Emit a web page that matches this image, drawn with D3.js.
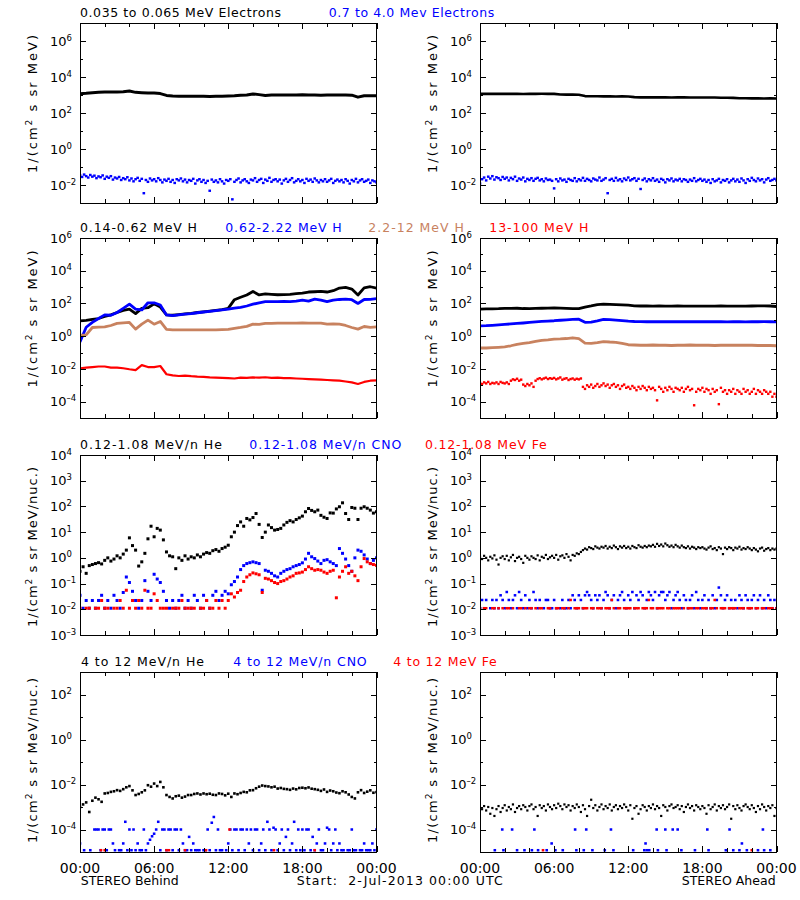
<!DOCTYPE html>
<html><head><meta charset="utf-8">
<script src="https://cdn.jsdelivr.net/npm/d3@7"></script>
<style>body{margin:0;background:#fff}svg{display:block}text{font-family:"DejaVu Sans",sans-serif}</style>
</head><body><svg id="c" width="800" height="900"></svg>
<script>
// ---------------- DATA (flux values, hours since 2-Jul-2013 00:00 UTC) ----------------
const xTickHours = [0, 6, 12, 18, 24];
const xTickLabels = ["00:00", "06:00", "12:00", "18:00", "00:00"];
const xMinorHours = [2, 4, 8, 10, 14, 16, 20, 22];

// Row 1 electrons (black: 30-min samples; blue: 10-min samples)
const behindElecLo = [1180,1250,1350,1400,1450,1470,1450,1500,1650,1400,1350,1300,1300,1200,950,880,860,850,860,840,850,830,840,850,870,900,960,1000,1150,1050,950,1000,1010,990,1000,1000,1020,990,1000,980,1000,990,1010,1000,980,760,900,920,900];
const behindElecHi = [0.035,0.028,0.038,0.031,0.026,0.036,0.029,0.033,0.024,0.030,0.027,0.034,
 0.022,0.029,0.025,0.031,0.020,0.026,0.023,0.028,0.019,0.024,0.021,0.027,
 0.018,0.023,0.016,0.021,0.025,0.017,0.022,0.0035,0.019,0.015,0.023,0.018,
 0.021,0.016,0.024,0.019,0.014,0.020,0.017,0.022,0.015,0.019,0.013,0.021,
 0.018,0.023,0.016,0.020,0.014,0.019,0.017,0.022,0.012,0.018,0.021,0.015,
 0.019,0.013,0.017,0.0048,0.020,0.015,0.018,0.014,0.021,0.016,0.012,0.019,
 0.017,0.021,0.0016,0.015,0.019,0.023,0.014,0.018,0.021,0.016,0.013,0.020,
 0.018,0.024,0.015,0.019,0.022,0.013,0.020,0.017,0.025,0.015,0.019,0.021,
 0.016,0.020,0.012,0.018,0.022,0.015,0.019,0.024,0.014,0.017,0.021,0.016,
 0.019,0.013,0.022,0.017,0.020,0.015,0.023,0.018,0.014,0.019,0.016,0.021,
 0.015,0.018,0.022,0.013,0.017,0.020,0.016,0.019,0.014,0.021,0.017,0.012,
 0.019,0.016,0.022,0.014,0.018,0.021,0.015,0.017,0.020,0.013,0.018,0.016,0.014];
const aheadElecLo = [1150,1150,1160,1150,1150,1160,1150,1140,1150,1160,1170,1160,1150,1060,1050,1050,1040,870,850,850,840,850,830,840,830,760,740,740,750,740,740,730,740,740,730,730,720,730,720,710,700,690,660,660,650,650,640,650,640];
const aheadElecHi = [0.012,0.021,0.026,0.018,0.029,0.023,0.031,0.020,0.027,0.024,0.019,0.028,
 0.022,0.026,0.018,0.025,0.021,0.029,0.017,0.023,0.020,0.026,0.016,0.022,
 0.019,0.024,0.017,0.022,0.025,0.018,0.021,0.016,0.023,0.019,0.020,0.017,
 0.0065,0.021,0.016,0.023,0.018,0.020,0.015,0.022,0.019,0.017,0.024,0.016,
 0.021,0.018,0.025,0.017,0.022,0.019,0.016,0.023,0.020,0.018,0.026,0.017,
 0.020,0.024,0.0035,0.019,0.022,0.017,0.025,0.018,0.021,0.016,0.023,0.019,
 0.026,0.018,0.021,0.024,0.017,0.022,0.006,0.019,0.023,0.016,0.021,0.018,
 0.024,0.017,0.020,0.015,0.022,0.019,0.014,0.021,0.018,0.023,0.016,0.020,
 0.018,0.022,0.016,0.021,0.019,0.015,0.020,0.017,0.024,0.016,0.019,0.022,
 0.017,0.020,0.015,0.019,0.013,0.021,0.016,0.018,0.022,0.014,0.019,0.017,
 0.021,0.014,0.018,0.022,0.016,0.020,0.015,0.023,0.018,0.013,0.021,0.017,
 0.025,0.019,0.016,0.023,0.018,0.021,0.014,0.020,0.024,0.017,0.019,0.022,0.018];

// Row 2 protons (30-min samples; ahead 13-100 MeV at 10-min)
const behindH1 = [8.7,9.2,10.5,12,16,20,28,38,45,24,50,55,95,60,20,19,21,23,25,28,31,34,38,42,50,170,240,330,540,330,380,360,340,350,360,400,430,500,520,540,500,600,870,950,760,330,900,1050,870];
const behindH2 = [0.45,3.5,7,12,20,19,28,50,90,45,40,110,110,80,20,18,20,22,24,27,30,33,36,40,45,52,57,70,90,110,130,130,130,135,130,140,160,140,185,160,130,160,175,185,170,100,175,180,195];
const behindH3 = [1.15,1.2,3.4,3.6,3.7,4.5,6,6.5,6.9,2.7,5.4,9.5,5.4,8,2.6,2.4,2.4,2.4,2.4,2.4,2.4,2.4,2.45,2.5,2.6,3.0,3.4,4.0,5.4,5.2,6,6,6.3,6.3,6.3,6.3,6.4,6.3,6.3,6.3,5.4,5.6,5.4,4.5,3.4,2.7,3.9,3.5,3.7];
const behindH4 = [0.011,0.012,0.013,0.014,0.014,0.012,0.012,0.011,0.0095,0.0085,0.017,0.013,0.013,0.015,0.0047,0.004,0.0037,0.0039,0.0036,0.0034,0.0033,0.003,0.0029,0.0028,0.0027,0.0026,0.0029,0.0028,0.003,0.0029,0.0031,0.0028,0.0029,0.0027,0.0027,0.0026,0.0025,0.0024,0.0023,0.0022,0.0021,0.002,0.0019,0.0017,0.0015,0.0012,0.0016,0.0019,0.002];
const aheadH1 = [45,46,47,48,50,50,51,49,48,50,51,52,53,52,50,48,48,60,70,85,92,88,85,83,78,72,70,70,69,70,69,69,70,69,68,69,69,68,69,70,69,68,68,69,70,71,72,70,65];
const aheadH2 = [4.3,4.4,4.6,4.9,5.2,5.6,6.0,6.4,6.9,7.5,8,8.4,8.8,9.4,10,10.5,11,7.0,7.2,8.5,10.5,10.2,9.6,9.0,8.3,7.9,7.7,7.6,7.7,7.6,7.6,7.7,7.6,7.6,7.7,7.6,7.6,7.6,7.7,7.6,7.5,7.6,7.6,7.5,7.6,7.6,7.7,7.6,7.5];
const aheadH3 = [0.19,0.19,0.2,0.21,0.22,0.26,0.32,0.36,0.41,0.48,0.56,0.6,0.66,0.68,0.72,0.8,0.7,0.38,0.36,0.4,0.47,0.44,0.42,0.36,0.3,0.29,0.28,0.28,0.29,0.28,0.28,0.27,0.28,0.28,0.29,0.28,0.28,0.28,0.27,0.28,0.28,0.28,0.28,0.28,0.28,0.27,0.27,0.27,0.26];
const aheadH4 = [0.0014,0.0012,0.0015,0.0013,0.0016,0.0012,0.0014,0.0013,0.0015,0.0012,0.0016,0.0014,
 0.0013,0.0015,0.0012,0.0019,0.0023,0.0021,0.0025,0.0019,0.0022,0.0011,0.0009,0.0012,
 0.0010,0.0013,0.0008,0.0019,0.0024,0.0027,0.0023,0.0026,0.0029,0.0024,0.0027,0.0025,
 0.0028,0.0023,0.0026,0.0030,0.0022,0.0025,0.0027,0.0021,0.0024,0.0026,0.0022,0.0025,
 0.0023,0.0026,0.0008,0.0006,0.0010,0.0008,0.0011,0.0007,0.0009,0.0012,0.0008,0.0010,
 0.0013,0.0009,0.0011,0.0007,0.0010,0.0012,0.0008,0.0010,0.0006,0.0009,0.0011,0.0007,
 0.0008,0.0006,0.0009,0.0007,0.0005,0.0008,0.0006,0.0009,0.0007,0.0005,0.0008,0.0006,
 0.0007,0.0005,0.00012,0.0008,0.0006,0.0004,0.0007,0.0005,0.0008,0.0006,0.0004,0.0007,
 0.0006,0.0005,0.0007,0.0004,0.0006,0.0008,0.0005,0.0006,0.00006,0.0004,0.0006,0.0005,
 0.0007,0.0004,0.0006,0.0005,0.0003,0.0006,0.0004,0.0005,0.00007,0.0007,0.0004,0.0005,
 0.0003,0.0005,0.0004,0.0006,0.0003,0.0005,0.0004,0.0003,0.0006,0.0004,0.0005,0.0003,
 0.0004,0.0006,0.0003,0.0005,0.0004,0.0003,0.0005,0.0004,0.0003,0.0004,0.0002,0.0003,0.0002];

// Row 3 low-energy ions (15-min samples; ahead at 10-min)
const behindHeLo = [0.3,0.45,0.25,0.5,0.55,0.6,0.65,0.58,0.8,1.0,0.75,0.9,1.2,1.0,1.4,2.0,6.0,3.0,2.0,0.48,0.7,1.5,5.5,17,6.6,14,12,5,1.7,1.2,1.1,0.38,1.0,0.8,1.2,0.9,1.1,1.0,1.3,1.1,1.4,1.6,1.5,1.9,2.1,1.8,2.3,2.6,3.1,6.6,10,18,25,17,34,30,37,53,20,6.2,10,19,15,12,12.7,14,19,24,28,25,31,36,42,62,83,70,62,72,45,38,34,56,55,80,97,138,53,31,91,85,31,85,97,85,72,55,62];
const behindCNOLo = [0.035,0.011,0.022,0.011,0.022,0.011,0.022,0.035,0.011,0.022,0.011,0.035,0.022,0.011,0.045,0.18,0.11,0.05,0.022,0.011,0.022,0.13,0.05,0.022,0.23,0.15,0.11,0.05,0.022,0.011,0.022,0.011,0.022,0.035,0.011,0.022,0.011,0.035,0.022,0.011,0.035,0.022,0.011,0.035,0.05,0.022,0.035,0.05,0.04,0.09,0.12,0.18,0.35,0.5,0.6,0.65,0.7,0.65,0.6,0.055,0.33,0.3,0.25,0.2,0.18,0.25,0.3,0.35,0.38,0.45,0.5,0.55,0.64,0.9,1.5,1.1,0.94,0.75,0.6,0.8,0.85,0.7,0.6,0.5,2.3,1.5,0.9,0.5,0.3,1.0,2.0,1.8,1.3,0.9,0.6,0.8,1.0];
const behindFeLo = [0.011,null,0.011,0.011,null,0.011,0.011,0.022,0.011,0.011,null,0.011,0.011,0.022,0.011,0.055,0.011,0.022,0.011,0.022,0.011,0.055,0.011,0.011,0.04,0.022,0.011,0.011,0.011,null,0.011,0.011,0.011,0.022,0.011,0.011,0.011,0.011,null,0.011,0.011,0.022,0.011,0.011,0.022,0.011,0.022,0.011,0.022,0.04,0.03,0.045,0.055,0.12,0.18,0.22,0.26,0.24,0.22,0.045,0.16,0.15,0.13,0.11,0.1,0.12,0.13,0.15,0.18,0.2,0.25,0.26,0.28,0.35,0.45,0.38,0.33,0.35,0.33,0.28,0.25,0.3,0.33,0.028,0.18,0.3,0.45,0.25,0.3,0.2,0.13,0.45,0.94,0.7,0.6,0.55,0.51];
const aheadHeLo = [1.1,0.9,1.2,1.0,0.8,1.1,0.95,1.25,0.85,0.55,1.0,1.15,
 0.9,1.2,0.8,1.05,1.3,0.75,1.0,1.1,0.9,0.64,1.2,1.0,
 0.85,1.15,1.0,0.9,1.25,0.8,1.1,1.0,1.3,0.9,1.05,1.2,
 1.0,1.3,0.85,1.15,1.25,1.0,1.4,1.1,0.8,1.3,1.2,1.5,
 1.4,1.7,2.0,2.3,2.1,2.6,2.4,2.2,2.8,2.5,2.3,2.7,
 2.5,2.9,2.3,2.7,2.4,3.0,2.6,2.2,2.8,2.5,2.9,2.4,
 2.7,2.3,2.9,2.6,2.4,3.1,2.7,2.5,2.9,2.6,3.0,2.8,
 3.2,2.7,3.5,2.9,3.3,2.8,3.6,3.1,2.7,3.0,2.6,3.2,
 2.8,2.5,3.0,2.6,2.4,2.8,2.3,2.7,2.5,2.2,2.6,2.4,
 2.6,2.3,2.1,2.5,2.8,2.2,2.4,2.0,2.6,2.3,1.4,2.5,
 2.2,2.6,2.4,2.0,2.5,2.3,2.7,2.1,2.4,2.2,2.6,2.3,
 2.0,2.4,2.1,1.8,2.3,2.5,1.9,2.2,2.4,2.0,2.3,2.1,2.3];
const aheadCNOLo = [0.011,0.023,0.011,0.023,null,0.011,0.023,0.011,0.023,0.011,0.035,0.023,
 0.011,0.047,0.023,0.011,0.023,0.035,0.011,0.047,0.023,0.011,0.035,0.011,
 0.023,0.011,0.047,0.023,0.011,0.023,null,0.011,0.023,0.023,0.011,0.011,
 0.023,0.011,null,0.011,0.023,0.011,0.011,0.023,0.011,0.035,0.023,0.011,
 0.035,0.023,0.011,0.035,0.047,0.035,0.023,0.011,0.035,0.023,0.035,0.011,
 0.023,0.047,0.035,0.011,0.023,0.035,0.011,0.023,0.035,0.047,0.023,0.011,
 0.035,0.023,0.047,0.011,0.035,0.023,0.047,0.035,0.011,0.023,0.047,0.035,
 0.023,0.047,0.011,0.035,0.047,0.047,0.023,0.035,0.047,0.011,0.023,0.035,
 0.047,0.023,0.011,0.035,0.023,0.011,0.023,0.035,0.011,0.047,0.023,0.011,
 0.023,0.035,0.011,0.023,0.011,0.035,0.011,0.023,0.07,0.035,0.011,0.023,
 0.035,0.011,0.023,0.011,0.023,0.011,0.035,0.023,0.011,0.035,0.023,0.011,
 0.023,0.035,0.011,0.023,0.035,0.011,0.023,0.011,0.035,0.023,0.011,0.023,0.011];
const aheadFeLo = [0.011,null,0.011,0.011,null,null,0.011,0.011,null,0.011,null,0.011,
 null,0.011,0.011,null,0.011,null,null,0.011,0.011,null,0.011,null,
 0.011,0.011,null,0.011,null,0.011,0.011,null,null,0.011,0.011,null,
 null,0.011,0.011,null,0.011,0.011,null,0.011,0.023,null,0.011,0.011,
 0.011,null,0.011,0.011,0.011,null,0.011,0.011,null,0.011,0.011,0.011,
 null,0.011,0.011,0.011,0.023,0.011,null,0.011,0.011,null,0.011,0.011,
 0.011,0.011,null,0.011,0.011,0.011,null,0.011,0.011,0.011,0.023,0.011,
 0.011,null,0.011,0.011,0.011,0.011,null,0.011,0.011,null,0.011,0.011,
 0.011,0.011,null,0.011,null,0.011,0.011,0.011,null,0.011,0.011,null,
 0.011,0.011,0.011,null,0.011,0.011,0.023,0.011,null,0.011,0.011,0.011,
 null,0.011,0.011,0.011,0.011,null,0.011,0.011,0.011,null,0.011,0.011,
 0.011,null,0.011,0.011,null,0.011,0.011,null,0.011,0.011,0.011,null,0.011];

// Row 4 high-energy ions (15-min / 10-min samples, or sparse [hour, value] pairs)
const behindHeHi = [0.0010,0.0013,0.0016,0.0006,0.0019,0.0026,0.0022,0.0017,0.0040,0.0042,0.0047,0.0050,0.0056,0.0052,0.0062,0.0075,0.0085,0.0055,0.0034,0.0038,0.0045,0.0055,0.0093,0.0080,0.011,0.0085,0.013,0.0075,0.0034,0.0028,0.0024,0.0030,0.0032,0.0026,0.0029,0.0034,0.0034,0.0038,0.0040,0.0036,0.0040,0.0037,0.0039,0.0035,0.0034,0.0040,0.0038,0.0033,0.0039,0.0028,0.0040,0.0037,0.0042,0.0047,0.0045,0.0055,0.0056,0.0068,0.0080,0.0090,0.0085,0.0082,0.0075,0.0080,0.0066,0.0070,0.0064,0.0062,0.0058,0.0066,0.0061,0.0070,0.0072,0.0068,0.0074,0.0065,0.0062,0.0058,0.0052,0.0060,0.0047,0.0054,0.0050,0.0044,0.0041,0.0050,0.0045,0.0036,0.0028,0.0024,0.0045,0.0056,0.0042,0.0048,0.0055,0.0043,0.0046];
const behindCNOHi = [2.4e-5,null,1.2e-5,null,null,1.2e-5,null,1e-4,1e-4,1e-4,1.2e-5,1e-4,
 1e-4,1.2e-5,1e-4,1e-4,2.4e-5,1.2e-5,null,1.2e-5,1.2e-5,2.4e-5,2.2e-4,1.2e-5,
 1e-4,1.2e-5,1e-4,1.2e-5,2.4e-5,1.2e-5,1.2e-5,1e-4,1.2e-5,2.4e-5,3.5e-5,5e-5,
 6.5e-5,1e-4,2.2e-4,1.2e-5,1e-4,1e-4,1.2e-5,1e-4,1e-4,1.2e-5,1e-4,1e-4,
 1.2e-5,1e-4,2.4e-5,1.2e-5,1.2e-5,4.7e-5,1.2e-5,2.4e-5,1.2e-5,1.2e-5,1.2e-5,null,
 1.2e-5,1.2e-5,1e-4,1.2e-5,2e-4,3.6e-4,1.2e-5,1e-4,1.2e-5,1.2e-5,null,1.2e-5,
 2.4e-5,1e-4,1.2e-5,1e-4,1e-4,1.2e-5,1e-4,1e-4,1.2e-5,1e-4,2.4e-5,1e-4,
 1.2e-5,1e-4,1e-4,1.2e-5,2.4e-5,1e-4,1.2e-5,2.2e-4,1e-4,1.2e-5,1.2e-4,1e-4,
 1.2e-5,2.4e-5,1e-4,1.2e-5,4.7e-5,1e-4,1.2e-5,2.4e-5,2.2e-4,1.2e-5,1e-4,1.2e-5,
 1e-4,1.2e-5,1e-4,1e-4,1.2e-5,4.7e-5,1.2e-5,2.4e-5,1e-4,1.2e-5,1.2e-5,2.4e-5,
 1.2e-4,1e-4,1.2e-5,2.4e-5,1e-4,1.2e-5,2.4e-5,1.2e-5,1.2e-5,null,1.2e-5,1.2e-5,
 1e-4,1.2e-5,1.2e-5,null,1.2e-5,1.2e-5,2.4e-5,1.2e-5,1.2e-5,1.2e-5,2.4e-5,1.2e-5,1e-4];
const behindFeHi = [[1.7,1.2e-5],[2.0,1.2e-5],[7.0,1.2e-5],[7.2,1.2e-5],[8.5,1.2e-5],[10.2,1.2e-5],[12.1,1e-4],[15.7,1.2e-5],[19.0,1.2e-5]];
const aheadHeHi = [0.0009,0.0008,0.0011,0.0007,0.0010,0.0005,0.0009,0.0004,0.0008,0.0011,0.0006,0.0009,
 0.0012,0.0007,0.0010,0.0008,0.0013,0.0006,0.0009,0.0011,0.0008,0.0012,0.0010,0.0007,
 0.0011,0.0013,0.0008,0.0010,0.0004,0.0012,0.0009,0.0011,0.0007,0.0013,0.0010,0.0008,
 0.0012,0.0009,0.0014,0.0011,0.0008,0.0013,0.0010,0.0012,0.0007,0.0011,0.0009,0.0013,
 0.0010,0.0006,0.0012,0.0008,0.0004,0.0011,0.0021,0.0009,0.0012,0.0007,0.0010,0.0013,
 0.0008,0.0011,0.0009,0.0013,0.0007,0.0010,0.0012,0.0008,0.0011,0.0009,0.0013,0.0010,
 0.0007,0.0012,0.0003,0.0009,0.0011,0.0005,0.0008,0.0012,0.0010,0.0007,0.0011,0.0009,
 0.0013,0.0008,0.0011,0.0009,0.0004,0.0012,0.0010,0.0007,0.0011,0.0013,0.0009,0.0010,
 0.0012,0.0008,0.0011,0.0006,0.0010,0.0013,0.0009,0.0011,0.0007,0.0012,0.0010,0.0008,
 0.0011,0.0009,0.0005,0.0012,0.0008,0.0010,0.0013,0.0007,0.0011,0.0009,0.0012,0.0008,
 0.0010,0.0013,0.0003,0.0011,0.0008,0.0012,0.0009,0.0007,0.0011,0.0013,0.0010,0.0008,
 0.0012,0.0009,0.0006,0.0011,0.0008,0.0013,0.0010,0.0007,0.0011,0.0009,0.0012,0.0004,0.0009];
const aheadCNOHi = [[1.2,1.2e-5],[1.8,1e-4],[1.9,1.2e-5],[2.6,1e-4],[3.0,1.2e-5],[3.6,1.2e-5],[4.2,1.2e-5],[4.4,1e-4],[4.7,1.2e-5],[5.4,1.2e-5],[5.8,2.4e-5],[6.1,1.2e-5],[6.7,1.2e-5],[7.7,1e-4],[7.8,1.2e-5],[8.4,1.2e-5],[8.6,1e-4],[9.1,1.2e-5],[10.1,1.2e-5],[10.6,1e-4],[10.8,1.2e-5],[12.4,1.2e-5],[13.3,1.2e-5],[13.4,2.4e-5],[13.5,1.2e-5],[13.7,1.2e-5],[14.3,1e-4],[14.4,1.2e-5],[15.0,1e-4],[15.1,1.2e-5],[15.6,1e-4],[16.0,1e-4],[16.3,1.2e-5],[17.4,1.2e-5],[18.4,1e-4],[18.5,1.2e-5],[19.9,1.2e-5],[20.2,1e-4],[20.5,1.2e-5],[21.0,1.2e-5],[21.2,2.4e-5],[21.6,1.2e-5],[22.5,1.2e-5],[22.9,1e-4],[23.0,1.2e-5],[23.5,1.2e-5]];
const aheadFeHi = [[5.1,1.2e-5],[22.0,1.2e-5]];

// ---------------- LAYOUT / STYLE ----------------
const BLACK = "#000000", BLUE = "#0000ff", BROWN = "#c8825f", RED = "#ff0000";
const colX = [80, 480], plotW = 296.5;
const rowTop = [23, 238, 455, 672], plotH = 180;
const rowsCfg = [
  {domain:[1e-3,1e7], major:[-2,0,2,4,6], minor:[-1,1,3,5], unit:"MeV)", yLen:138, yShift:-9},
  {domain:[1e-5,1e6], major:[-4,-2,0,2,4,6], minor:[-3,-1,1,3,5], unit:"MeV)", yLen:137, yShift:-9},
  {domain:[1e-3,1e4], major:[-3,-2,-1,0,1,2,3,4], minor:[], unit:"MeV/nuc.)", yLen:160, yShift:2},
  {domain:[1e-5,1e3], major:[-4,-2,0,2], minor:[-3,-1,1], unit:"MeV/nuc.)", yLen:165, yShift:-1.5}
];
const titles = [
  [{t:"0.035 to 0.065 MeV Electrons", x:80, w:201, c:BLACK}, {t:"0.7 to 4.0 Mev Electrons", x:328.7, w:165.6, c:BLUE}],
  [{t:"0.14-0.62 MeV H", x:80, w:117, c:BLACK}, {t:"0.62-2.22 MeV H", x:225.3, w:116.4, c:BLUE}, {t:"2.2-12 MeV H", x:368.3, w:95.7, c:BROWN}, {t:"13-100 MeV H", x:489.3, w:99, c:RED}],
  [{t:"0.12-1.08 MeV/n He", x:80, w:142, c:BLACK}, {t:"0.12-1.08 MeV/n CNO", x:249.3, w:152, c:BLUE}, {t:"0.12-1.08 MeV Fe", x:425, w:121.7, c:RED}],
  [{t:"4 to 12 MeV/n He", x:81, w:123, c:BLACK}, {t:"4 to 12 MeV/n CNO", x:233.3, w:133.4, c:BLUE}, {t:"4 to 12 MeV Fe", x:393.3, w:103.4, c:RED}]
];
const L = (data, step, color, w) => ({data, step, color, mode:"line", w});
const D = (data, step, color, w, h) => ({data, step, color, mode:"dot", w, h});
const P = (pairs, color, w, h) => ({pairs, color, mode:"dot", w, h});
const panels = [
  {row:0, col:0, series:[L(behindElecLo,0.5,BLACK,3), D(behindElecHi,1/6,BLUE,2.6,2.4)]},
  {row:0, col:1, series:[L(aheadElecLo,0.5,BLACK,2.6), D(aheadElecHi,1/6,BLUE,2.6,2.4)]},
  {row:1, col:0, series:[L(behindH1,0.5,BLACK,2.8), L(behindH2,0.5,BLUE,2.8), L(behindH3,0.5,BROWN,2.8), L(behindH4,0.5,RED,2.2)]},
  {row:1, col:1, series:[L(aheadH1,0.5,BLACK,2.8), L(aheadH2,0.5,BLUE,2.8), L(aheadH3,0.5,BROWN,2.8), D(aheadH4,1/6,RED,2.4,2.4)]},
  {row:2, col:0, series:[D(behindHeLo,0.25,BLACK,3,3), D(behindCNOLo,0.25,BLUE,3,3), D(behindFeLo,0.25,RED,3,3)]},
  {row:2, col:1, series:[D(aheadHeLo,1/6,BLACK,2.2,2.2), D(aheadCNOLo,1/6,BLUE,2.6,2.5), D(aheadFeLo,1/6,RED,2.6,2.5)]},
  {row:3, col:0, series:[D(behindHeHi,0.25,BLACK,2.6,2.6), D(behindCNOHi,1/6,BLUE,2.6,2.5), P(behindFeHi,RED,2.6,2.5)]},
  {row:3, col:1, series:[D(aheadHeHi,1/6,BLACK,2.2,2.2), P(aheadCNOHi,BLUE,2.6,2.5), P(aheadFeHi,RED,2.6,2.5)]}
];

// ---------------- DRAW ----------------
const svg = d3.select("#c");
svg.append("rect").attr("width",800).attr("height",900).attr("fill","#fff");

function toPoints(s){
  if (s.pairs) return s.pairs.map(p => ({t:p[0], v:p[1]}));
  return s.data.map((v,i) => ({t:i*s.step, v}));
}
function expLabel(sel, e){
  sel.append("tspan").attr("font-size",13).text("10");
  sel.append("tspan").attr("font-size",8.5).attr("dy",-5).text(e < 0 ? "\u2013" + Math.abs(e) : String(e));
}

panels.forEach((p, pi) => {
  const rc = rowsCfg[p.row];
  const x0 = colX[p.col], y0 = rowTop[p.row];
  const x = d3.scaleLinear().domain([0,24]).range([x0, x0+plotW]);
  const y = d3.scaleLog().domain(rc.domain).range([y0+plotH, y0]);
  const g = svg.append("g");
  const cid = "clip"+pi;
  svg.append("clipPath").attr("id",cid).append("rect").attr("x",x0).attr("y",y0).attr("width",plotW).attr("height",plotH);
  const dg = g.append("g").attr("clip-path",`url(#${cid})`);

  p.series.forEach(s => {
    const pts = toPoints(s);
    if (s.mode === "line") {
      dg.append("path").datum(pts)
        .attr("d", d3.line().defined(d => d.v != null).x(d => x(d.t)).y(d => y(d.v)))
        .attr("fill","none").attr("stroke",s.color).attr("stroke-width",s.w).attr("stroke-linejoin","round");
    } else {
      dg.append("g").selectAll("rect").data(pts.filter(d => d.v != null)).join("rect")
        .attr("x", d => x(d.t) - s.w/2).attr("y", d => y(d.v) - s.h/2)
        .attr("width", s.w).attr("height", s.h).attr("fill", s.color);
    }
  });

  // frame
  g.append("rect").attr("x",x0).attr("y",y0).attr("width",plotW).attr("height",plotH)
    .attr("fill","none").attr("stroke","#000").attr("stroke-width",1).attr("shape-rendering","crispEdges");

  const majV = rc.major.map(e => Math.pow(10,e)), minV = rc.minor.map(e => Math.pow(10,e));
  const ax = (gen, tx, ty) => g.append("g").attr("transform",`translate(${tx},${ty})`)
      .attr("shape-rendering","crispEdges").call(gen).call(a => a.select(".domain").remove()).call(a => a.selectAll("text").remove());
  ax(d3.axisLeft(y).tickValues(majV).tickSize(-6), x0, 0);
  ax(d3.axisRight(y).tickValues(majV).tickSize(-6), x0+plotW, 0);
  if (minV.length) {
    ax(d3.axisLeft(y).tickValues(minV).tickSize(-3), x0, 0);
    ax(d3.axisRight(y).tickValues(minV).tickSize(-3), x0+plotW, 0);
  }
  ax(d3.axisTop(x).tickValues(xTickHours).tickSize(-6), 0, y0);
  ax(d3.axisBottom(x).tickValues(xTickHours).tickSize(-6), 0, y0+plotH);
  ax(d3.axisTop(x).tickValues(xMinorHours).tickSize(-4), 0, y0);
  ax(d3.axisBottom(x).tickValues(xMinorHours).tickSize(-4), 0, y0+plotH);

  // y tick labels
  rc.major.forEach(e => {
    const t = g.append("text").attr("x", x0-30).attr("y", y(Math.pow(10,e)) + 4.6).attr("fill","#000");
    expLabel(t, e);
  });

  // y axis title
  const cy = y0 + plotH/2 + rc.yShift, lx = x0 - 43;
  const yt = g.append("text").attr("transform",`translate(${lx},${cy}) rotate(-90)`)
    .attr("text-anchor","middle").attr("font-size",13).attr("fill","#000")
    .attr("textLength", rc.yLen).attr("lengthAdjust","spacing");
  yt.append("tspan").text("1/(cm");
  yt.append("tspan").attr("font-size",9).attr("dy",-5).text("2");
  yt.append("tspan").attr("dy",5).style("white-space","pre").text(" s sr " + rc.unit);

  // bottom x labels only on last row
  if (p.row === 3) {
    xTickHours.forEach((h,i) => {
      g.append("text").attr("x", x(h)).attr("y", y0+plotH+20.5).attr("text-anchor","middle")
        .attr("font-size",14).attr("fill","#000").text(xTickLabels[i]);
    });
  }
});

// titles
titles.forEach((row, r) => {
  row.forEach(tt => {
    svg.append("text").attr("x", tt.x).attr("y", rowTop[r]-6).attr("fill", tt.c)
      .attr("font-size", 12.5).attr("textLength", tt.w).attr("lengthAdjust","spacing").text(tt.t);
  });
});

// footer
const footer = [
  {t:"STEREO Behind", x:80.7, w:98},
  {t:"Start:  2-Jul-2013 00:00 UTC", x:296.7, w:206},
  {t:"STEREO Ahead", x:681.7, w:94}
];
footer.forEach(f => {
  svg.append("text").attr("x", f.x).attr("y", 885).attr("fill","#000").attr("font-size",12.5)
    .style("white-space","pre").attr("textLength", f.w).attr("lengthAdjust","spacing").text(f.t);
});
</script>
</body></html>
